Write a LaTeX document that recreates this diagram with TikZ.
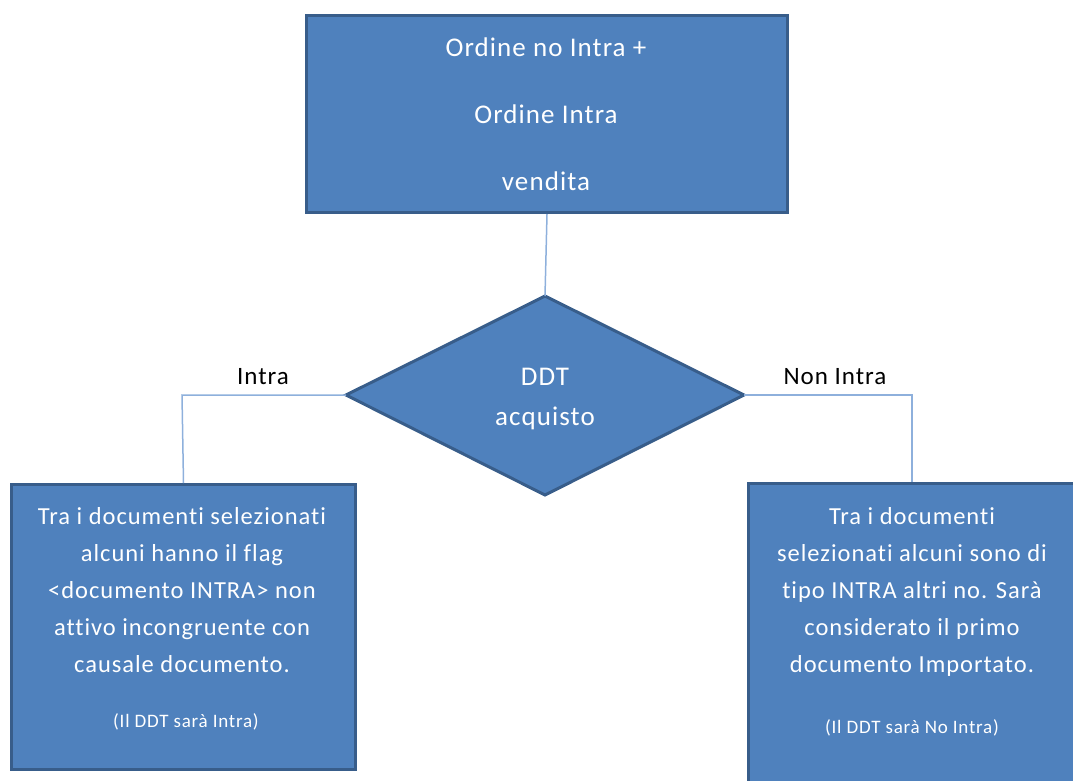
\documentclass[tikz,border=0pt]{standalone}
\usepackage{fontspec}
\setmainfont{Carlito}
\newfontfamily\spacedfont[LetterSpace=4,Ligatures={NoCommon}]{Carlito}
\usetikzlibrary{shapes.geometric}
\definecolor{boxfill}{HTML}{4F81BD}
\definecolor{boxline}{HTML}{385D8A}
\definecolor{conn}{HTML}{8EB0DC}
\begin{document}
\begin{tikzpicture}[x=1pt,y=-1pt,
  blockbox/.style={draw=boxline,line width=3pt,fill=boxfill,inner sep=0pt},
  wtext/.style={text=white,align=center,inner sep=0pt},
  conline/.style={draw=conn,line width=1.5pt},
  lbl/.style={font=\spacedfont\fontsize{25}{30}\selectfont,text=black}]
\useasboundingbox (0,0) rectangle (1073,780);
\clip (0,0) rectangle (1073,780);
% top box
\node[blockbox,minimum width=481pt,minimum height=197pt,anchor=north west] (top) at (305,14) {};
\node[wtext,font=\spacedfont\fontsize{27}{67}\selectfont] (toptext) at (546,114)
  {Ordine no Intra +\\Ordine Intra\\vendita};
% diamond
\coordinate (dT) at (545,296);
\coordinate (dL) at (346,395);
\coordinate (dR) at (744,395);
\coordinate (dB) at (545,495);
\draw[draw=boxline,line width=3pt,fill=boxfill,line join=miter] (dT) -- (dR) -- (dB) -- (dL) -- cycle;
\node[wtext,font=\spacedfont\fontsize{27}{40}\selectfont] (dec) at (545,399) {DDT\\acquisto};
% left box
\node[blockbox,minimum width=344pt,minimum height=285pt,anchor=north west] (lbox) at (10,483) {};
\node[wtext,font=\spacedfont\fontsize{24.5}{37.2}\selectfont] (ltext) at (182,590)
  {Tra i documenti selezionati\\alcuni hanno il flag\\<documento INTRA> non\\attivo incongruente con\\causale documento.};
\node[wtext,font=\spacedfont\fontsize{19}{21}\selectfont] (lnote) at (186,722) {(Il DDT sarà Intra)};
% right box
\node[blockbox,minimum width=330pt,minimum height=310pt,anchor=north west] (rbox) at (747,482) {};
\node[wtext,font=\spacedfont\fontsize{24.5}{37.2}\selectfont] (rtext) at (912,592)
  {Tra i documenti\\selezionati alcuni sono di\\tipo INTRA altri no. Sarà\\considerato il primo\\documento Importato.};
\node[wtext,font=\spacedfont\fontsize{19}{21}\selectfont] (rnote) at (912,728) {(Il DDT sarà No Intra)};
% connectors
\coordinate (lcorner) at (182,395);
\coordinate (rcorner) at (912,395);
\draw[conline] (top.south) -- (dT);
\draw[conline] (dL) -- (lcorner) -- (lbox.north);
\draw[conline] (dR) -- (rcorner) -- (rcorner |- rbox.north);
% labels
\node[lbl] (lintra) at (263,377) {Intra};
\node[lbl] (lnon) at (835,377) {Non Intra};
\end{tikzpicture}
\end{document}
